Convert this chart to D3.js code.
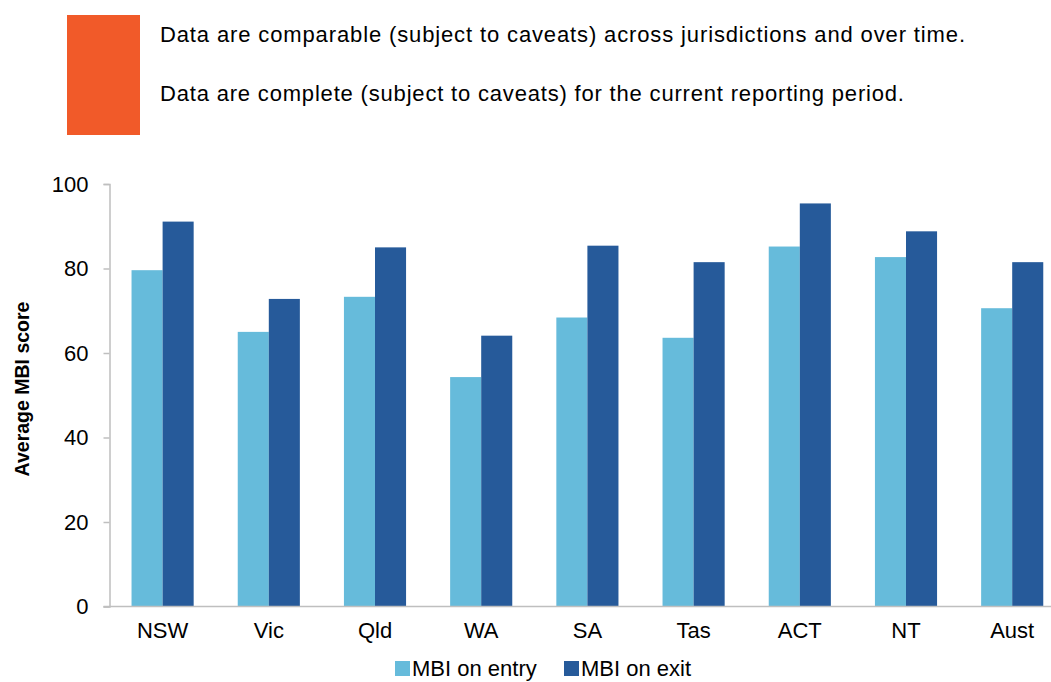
<!DOCTYPE html>
<html>
<head>
<meta charset="utf-8">
<script src="https://cdn.jsdelivr.net/npm/d3@7"></script>
<style>
  body { margin: 0; background: #fff; }
  svg { display: block; font-family: "Liberation Sans", Arial, sans-serif; }
</style>
</head>
<body>
<svg id="chart"></svg>
<script>
var width = 1051, height = 682;
var font = "'Liberation Sans', Arial, sans-serif";

// data
var jurisdictions = ["NSW", "Vic", "Qld", "WA", "SA", "Tas", "ACT", "NT", "Aust"];
var entryScores = [79.6, 65.0, 73.3, 54.3, 68.4, 63.6, 85.2, 82.7, 70.6];
var exitScores = [91.1, 72.8, 85.0, 64.1, 85.4, 81.5, 95.4, 88.8, 81.5];
var seriesNames = ["MBI on entry", "MBI on exit"];
var seriesColors = ["#66bbdb", "#265a9a"];
var yTicks = [0, 20, 40, 60, 80, 100];
var notes = [
  "Data are comparable (subject to caveats) across jurisdictions and over time.",
  "Data are complete (subject to caveats) for the current reporting period."
];
var noteWidths = [805, 744];

var svg = d3.select("#chart")
    .attr("width", width)
    .attr("height", height);

// quality box + notes
svg.append("rect")
    .attr("x", 67).attr("y", 15)
    .attr("width", 73).attr("height", 120)
    .attr("fill", "#f15a29");

svg.selectAll(".note")
  .data(notes)
  .enter()
  .append("text")
    .attr("class", "note")
    .attr("x", 160)
    .attr("y", (d, i) => 42 + i * 59)
    .attr("textLength", (d, i) => noteWidths[i])
    .attr("lengthAdjust", "spacing")
    .style("font-size", "22px")
    .attr("fill", "#000")
    .text(d => d);

// scales
var left = 109.5, bandStep = 106.2;
var xScale =
  d3.scaleBand()
    .domain(jurisdictions)
    .range([left, left + bandStep * jurisdictions.length])
    .paddingInner(0.415)
    .paddingOuter(0.2075);

var xSub =
  d3.scaleBand()
    .domain(seriesNames)
    .range([0, xScale.bandwidth()]);

var yScale =
  d3.scaleLinear()
    .domain([0, 100])
    .range([606.5, 184]);

// bars
var rows = jurisdictions.map((j, i) => ({ j: j, values: [entryScores[i], exitScores[i]] }));

var groups = svg.selectAll(".grp")
  .data(rows)
  .enter()
  .append("g")
    .attr("class", "grp")
    .attr("transform", d => `translate(${xScale(d.j)},0)`);

groups.selectAll("rect")
  .data(d => d.values.map((v, k) => ({ s: seriesNames[k], v: v, k: k })))
  .enter()
  .append("rect")
    .attr("x", d => xSub(d.s))
    .attr("width", xSub.bandwidth())
    .attr("y", d => yScale(d.v))
    .attr("height", d => yScale(0) - yScale(d.v))
    .attr("fill", d => seriesColors[d.k]);

// y-axis
var yAxis = svg.append("g")
    .attr("transform", `translate(${left},0)`)
    .call(d3.axisLeft(yScale).tickValues(yTicks).tickSize(6).tickPadding(15));
yAxis.selectAll("line, path").attr("stroke", "#bfbfbf").attr("stroke-width", 1.5);
yAxis.selectAll("text")
    .style("font-size", "22px")
    .attr("fill", "#000")
    .attr("font-family", font);

// x-axis
var xAxis = svg.append("g")
    .attr("transform", `translate(0,${yScale(0)})`)
    .call(d3.axisBottom(xScale).tickSize(0).tickPadding(16));
xAxis.select("path")
    .attr("d", `M${left - 6},0H${width}`)
    .attr("stroke", "#bfbfbf").attr("stroke-width", 1.5);
xAxis.selectAll("text")
    .style("font-size", "22px")
    .attr("fill", "#000")
    .attr("font-family", font);

// y-axis label
svg.append("text")
    .attr("transform", "rotate(-90)")
    .attr("x", -389)
    .attr("y", 29)
    .attr("text-anchor", "middle")
    .style("font-size", "19.5px")
    .style("font-weight", "bold")
    .text("Average MBI score");

// legend
var legendX = [395, 564];
var legend = svg.selectAll(".leg")
  .data(seriesNames)
  .enter()
  .append("g")
    .attr("class", "leg")
    .attr("transform", (d, i) => `translate(${legendX[i]},661)`);

legend.append("rect")
    .attr("width", 15).attr("height", 15)
    .attr("fill", (d, i) => seriesColors[i]);

legend.append("text")
    .attr("x", 17)
    .attr("y", 15)
    .style("font-size", "22px")
    .text(d => d);
</script>
</body>
</html>
